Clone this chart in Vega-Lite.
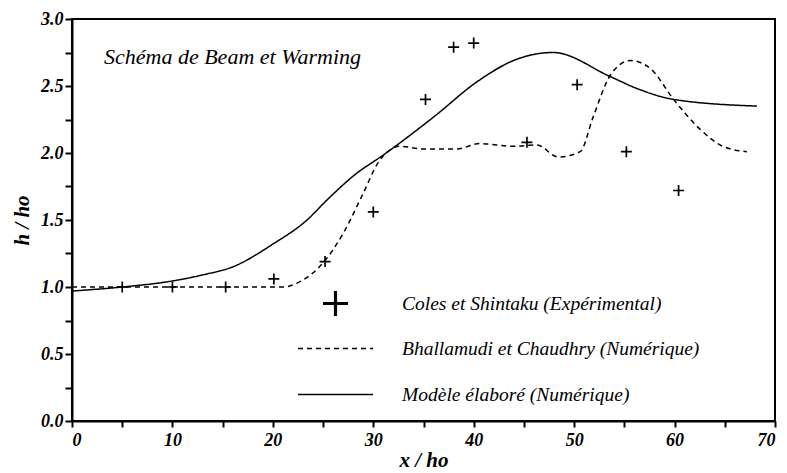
{
  "$schema": "https://vega.github.io/schema/vega-lite/v6.json",
  "autosize": "none",
  "width": 703,
  "height": 402,
  "padding": {"left": 72, "top": 19, "right": 12, "bottom": 52},
  "background": "white",
  "title": {
    "text": "Schéma de Beam et Warming",
    "anchor": "start",
    "frame": "group",
    "orient": "top",
    "fontStyle": "italic",
    "fontWeight": "normal",
    "fontSize": 22,
    "color": "black",
    "dx": 32,
    "dy": 59,
    "offset": 0
  },
  "datasets": {
    "exp": [
      {"series": "Coles et Shintaku (Expérimental)", "x": 5, "y": 1.0},
      {"series": "Coles et Shintaku (Expérimental)", "x": 10, "y": 1.0},
      {"series": "Coles et Shintaku (Expérimental)", "x": 15.3, "y": 1.0},
      {"series": "Coles et Shintaku (Expérimental)", "x": 20.1, "y": 1.06},
      {"series": "Coles et Shintaku (Expérimental)", "x": 25.2, "y": 1.19},
      {"series": "Coles et Shintaku (Expérimental)", "x": 30, "y": 1.56},
      {"series": "Coles et Shintaku (Expérimental)", "x": 35.2, "y": 2.4},
      {"series": "Coles et Shintaku (Expérimental)", "x": 38, "y": 2.79},
      {"series": "Coles et Shintaku (Expérimental)", "x": 40, "y": 2.82},
      {"series": "Coles et Shintaku (Expérimental)", "x": 45.3, "y": 2.08},
      {"series": "Coles et Shintaku (Expérimental)", "x": 50.3, "y": 2.51},
      {"series": "Coles et Shintaku (Expérimental)", "x": 55.2, "y": 2.01},
      {"series": "Coles et Shintaku (Expérimental)", "x": 60.4, "y": 1.72}
    ],
    "num": [
      {"series": "Modèle élaboré (Numérique)", "x": 0, "y": 0.97},
      {"series": "Modèle élaboré (Numérique)", "x": 5, "y": 1.0},
      {"series": "Modèle élaboré (Numérique)", "x": 10, "y": 1.045},
      {"series": "Modèle élaboré (Numérique)", "x": 13, "y": 1.09},
      {"series": "Modèle élaboré (Numérique)", "x": 16, "y": 1.15},
      {"series": "Modèle élaboré (Numérique)", "x": 20, "y": 1.32},
      {"series": "Modèle élaboré (Numérique)", "x": 23.4, "y": 1.5},
      {"series": "Modèle élaboré (Numérique)", "x": 25.4, "y": 1.65},
      {"series": "Modèle élaboré (Numérique)", "x": 28.2, "y": 1.84},
      {"series": "Modèle élaboré (Numérique)", "x": 31, "y": 1.985},
      {"series": "Modèle élaboré (Numérique)", "x": 36.2, "y": 2.28},
      {"series": "Modèle élaboré (Numérique)", "x": 40.3, "y": 2.53},
      {"series": "Modèle élaboré (Numérique)", "x": 44.3, "y": 2.7},
      {"series": "Modèle élaboré (Numérique)", "x": 47.9, "y": 2.75},
      {"series": "Modèle élaboré (Numérique)", "x": 53.6, "y": 2.57},
      {"series": "Modèle élaboré (Numérique)", "x": 56.3, "y": 2.48},
      {"series": "Modèle élaboré (Numérique)", "x": 59.9, "y": 2.4},
      {"series": "Modèle élaboré (Numérique)", "x": 68.2, "y": 2.35},
      {"series": "Bhallamudi et Chaudhry (Numérique)", "x": 0, "y": 1.0},
      {"series": "Bhallamudi et Chaudhry (Numérique)", "x": 10, "y": 1.0},
      {"series": "Bhallamudi et Chaudhry (Numérique)", "x": 21, "y": 1.0},
      {"series": "Bhallamudi et Chaudhry (Numérique)", "x": 22.7, "y": 1.04},
      {"series": "Bhallamudi et Chaudhry (Numérique)", "x": 25, "y": 1.18},
      {"series": "Bhallamudi et Chaudhry (Numérique)", "x": 27, "y": 1.4},
      {"series": "Bhallamudi et Chaudhry (Numérique)", "x": 29, "y": 1.7},
      {"series": "Bhallamudi et Chaudhry (Numérique)", "x": 30.5, "y": 1.93},
      {"series": "Bhallamudi et Chaudhry (Numérique)", "x": 32.7, "y": 2.05},
      {"series": "Bhallamudi et Chaudhry (Numérique)", "x": 35, "y": 2.03},
      {"series": "Bhallamudi et Chaudhry (Numérique)", "x": 38.3, "y": 2.03},
      {"series": "Bhallamudi et Chaudhry (Numérique)", "x": 40.6, "y": 2.07},
      {"series": "Bhallamudi et Chaudhry (Numérique)", "x": 43.9, "y": 2.05},
      {"series": "Bhallamudi et Chaudhry (Numérique)", "x": 46.3, "y": 2.06},
      {"series": "Bhallamudi et Chaudhry (Numérique)", "x": 48.4, "y": 1.97},
      {"series": "Bhallamudi et Chaudhry (Numérique)", "x": 50.6, "y": 2.01},
      {"series": "Bhallamudi et Chaudhry (Numérique)", "x": 51.9, "y": 2.27},
      {"series": "Bhallamudi et Chaudhry (Numérique)", "x": 53.6, "y": 2.58},
      {"series": "Bhallamudi et Chaudhry (Numérique)", "x": 55.6, "y": 2.69},
      {"series": "Bhallamudi et Chaudhry (Numérique)", "x": 57.6, "y": 2.63},
      {"series": "Bhallamudi et Chaudhry (Numérique)", "x": 59.9, "y": 2.4},
      {"series": "Bhallamudi et Chaudhry (Numérique)", "x": 62.5, "y": 2.18},
      {"series": "Bhallamudi et Chaudhry (Numérique)", "x": 64.8, "y": 2.05},
      {"series": "Bhallamudi et Chaudhry (Numérique)", "x": 67.2, "y": 2.01}
    ]
  },
  "encoding": {
    "x": {
      "field": "x", "type": "quantitative",
      "scale": {"domain": [0, 70], "nice": false, "zero": false},
      "axis": {
        "title": "x / ho",
        "values": [0, 5, 10, 15, 20, 25, 30, 35, 40, 45, 50, 55, 60, 65, 70],
        "labelExpr": "datum.value % 10 == 0 ? format(datum.value, 'd') : ''",
        "grid": false,
        "domainColor": "black", "domainWidth": 2,
        "tickColor": "black", "tickWidth": 2, "tickSize": 6,
        "labelFontStyle": "italic", "labelFontWeight": "bold",
        "labelFontSize": 18, "labelColor": "black", "labelPadding": 4,
        "titleFontStyle": "italic", "titleFontWeight": "bold",
        "titleFontSize": 21, "titleColor": "black", "titlePadding": 0
      }
    },
    "y": {
      "field": "y", "type": "quantitative",
      "scale": {"domain": [0, 3], "nice": false, "zero": false},
      "axis": {
        "title": "h / ho",
        "values": [0, 0.25, 0.5, 0.75, 1, 1.25, 1.5, 1.75, 2, 2.25, 2.5, 2.75, 3],
        "labelExpr": "datum.value % 0.5 == 0 ? format(datum.value, '.1f') : ''",
        "grid": false,
        "domainColor": "black", "domainWidth": 2,
        "tickColor": "black", "tickWidth": 2, "tickSize": 7,
        "labelFontStyle": "italic", "labelFontWeight": "bold",
        "labelFontSize": 18, "labelColor": "black", "labelPadding": 2,
        "titleFontStyle": "italic", "titleFontWeight": "bold",
        "titleFontSize": 21, "titleColor": "black", "titlePadding": 8
      }
    }
  },
  "layer": [
    {
      "data": {"name": "num"},
      "mark": {"type": "line", "color": "black", "interpolate": "monotone"},
      "encoding": {
        "strokeDash": {
          "field": "series", "type": "nominal",
          "scale": {
            "domain": ["Coles et Shintaku (Expérimental)", "Bhallamudi et Chaudhry (Numérique)", "Modèle élaboré (Numérique)"],
            "range": [[1, 0], [5, 4], [1, 0]]
          }
        },
        "strokeWidth": {
          "field": "series", "type": "nominal",
          "scale": {
            "type": "ordinal",
            "domain": ["Coles et Shintaku (Expérimental)", "Bhallamudi et Chaudhry (Numérique)", "Modèle élaboré (Numérique)"],
            "range": [3.2, 1.5, 1.5]
          }
        },
        "order": {"field": "x", "type": "quantitative"}
      }
    },
    {
      "data": {"name": "exp"},
      "mark": {"type": "point", "filled": false, "color": "black", "strokeWidth": 1.7, "size": 121, "opacity": 1},
      "encoding": {
        "strokeDash": {
          "field": "series", "type": "nominal",
          "scale": {
            "domain": ["Coles et Shintaku (Expérimental)", "Bhallamudi et Chaudhry (Numérique)", "Modèle élaboré (Numérique)"],
            "range": [[1, 0], [5, 4], [1, 0]]
          }
        },
        "shape": {
          "field": "series", "type": "nominal",
          "scale": {
            "domain": ["Coles et Shintaku (Expérimental)", "Bhallamudi et Chaudhry (Numérique)", "Modèle élaboré (Numérique)"],
            "range": ["M-1,0H1M0,-1V1", "M-3,0H3", "M-3,0H3"]
          }
        }
      }
    }
  ],
  "config": {
    "view": {"stroke": "black", "strokeWidth": 2},
    "font": "Liberation Serif, Times New Roman, DejaVu Serif, serif",
    "legend": {
      "title": null,
      "orient": "none",
      "legendX": 249,
      "legendY": 270,
      "gridAlign": "all",
      "symbolSize": 625,
      "symbolStrokeColor": "black",
      "symbolFillColor": "transparent",
      "symbolOpacity": 1,
      "symbolStrokeWidth": 1.6,
      "labelFontStyle": "italic",
      "labelFontSize": 19.5,
      "labelColor": "black",
      "labelLimit": 500,
      "labelOffset": 52,
      "rowPadding": 12
    }
  }
}
